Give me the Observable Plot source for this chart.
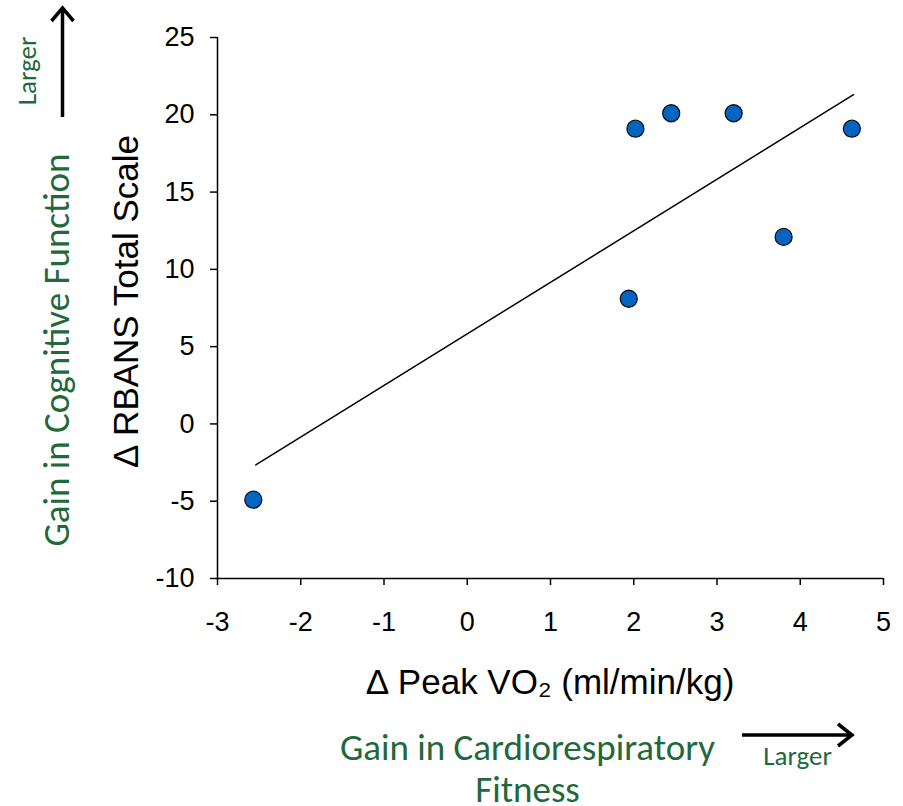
<!DOCTYPE html>
<html><head><meta charset="utf-8">
<script src="https://cdn.jsdelivr.net/npm/d3@7"></script>
<script src="https://cdn.jsdelivr.net/npm/@observablehq/plot@0.6"></script>
<style>body{margin:0;background:#fff} #chart{width:903px;height:806px}</style>
</head><body><div id="chart"></div>
<script>
// Data
const peakVO2 = [-2.57, 1.94, 2.02, 2.45, 3.20, 3.80, 4.62];
const rbans   = [-4.9, 8.1, 19.1, 20.1, 20.1, 12.1, 19.1];
const trendX  = [-2.54, 4.64];
const trendY  = [-2.65, 21.3];
const xTicks  = [-3, -2, -1, 0, 1, 2, 3, 4, 5];
const yTicks  = [-10, -5, 0, 5, 10, 15, 20, 25];
const xLabel  = "\u2206 Peak VO\u2082 (ml/min/kg)";
const yLabel  = "\u2206 RBANS Total Scale";
const xNote   = "Gain in Cardiorespiratory\nFitness";
const yNote   = "Gain in Cognitive Function";
const larger  = "Larger";

const points = peakVO2.map((x, i) => ({x, y: rbans[i]}));
const trend  = trendX.map((x, i) => ({x, y: trendY[i]}));
const green  = "#22683a";
const sans   = "'Liberation Sans', Arial, sans-serif";
const cal    = "Carlito, Lato, 'Open Sans', sans-serif";
const mid    = {textAnchor: "middle", lineAnchor: "middle"};

const chart = Plot.plot({
  width: 903, height: 806,
  marginLeft: 217, marginRight: 20, marginTop: 37, marginBottom: 228,
  style: {fontFamily: sans, background: "white", color: "black", overflow: "visible"},
  x: {domain: [-3, 5]},
  y: {domain: [-10, 25]},
  marks: [
    Plot.axisX({ticks: xTicks, tickSize: 7, tickPadding: 26, fontSize: 27, label: null,
      strokeWidth: 1.5, tickFormat: d => String(d)}),
    Plot.axisY({ticks: yTicks, tickSize: 7, tickPadding: 16, fontSize: 27, label: null,
      strokeWidth: 1.5, tickFormat: d => String(d)}),
    Plot.ruleX([-3], {stroke: "black", strokeWidth: 1.5}),
    Plot.ruleY([-10], {stroke: "black", strokeWidth: 1.5}),
    Plot.line(trend, {x: "x", y: "y", stroke: "black", strokeWidth: 1.5}),
    Plot.dot(points, {x: "x", y: "y", r: 8.5, fill: "#0563c1", stroke: "#111", strokeWidth: 1.3}),
    Plot.text([xLabel], {...mid, frameAnchor: "bottom", dy: 104, fontSize: 35, fill: "black"}),
    Plot.text([yLabel], {...mid, frameAnchor: "left", dx: -91, dy: -7, rotate: -90, fontSize: 35, fill: "black"}),
    Plot.text([xNote], {...mid, frameAnchor: "bottom", dx: -23, dy: 189, fontSize: 37, lineHeight: 1.14, fill: green, fontFamily: cal}),
    Plot.text([yNote], {...mid, frameAnchor: "left", dx: -160, dy: 42, rotate: -90, fontSize: 37, fill: green, fontFamily: cal}),
    Plot.text([larger], {...mid, frameAnchor: "left", dx: -190, dy: -237, rotate: -90, fontSize: 27, fill: green, fontFamily: cal}),
    Plot.text([larger], {...mid, frameAnchor: "bottom", dx: 247, dy: 178, fontSize: 27, fill: green, fontFamily: cal})
  ]
});
document.getElementById("chart").append(chart);

// Decorative arrows
const svg = d3.select(chart);
const g = svg.append("g").attr("fill", "none").attr("stroke", "black").attr("stroke-width", 3.5);
g.append("path").attr("d", "M742,735H851");
g.append("path").attr("d", "M838,724L852,735L838,746");
g.append("path").attr("d", "M62.5,117V9");
g.append("path").attr("d", "M51.5,21L62.5,8L73.5,21");
</script>
</body></html>
